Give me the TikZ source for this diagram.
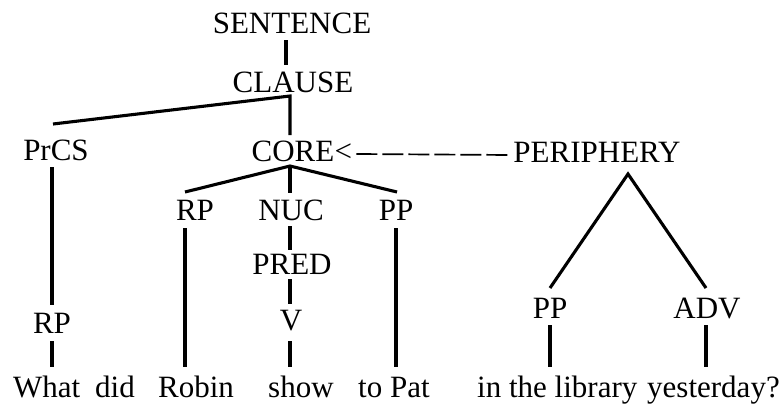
\documentclass[tikz,border=0pt]{standalone}
\usepackage{fontspec}
\setmainfont{Liberation Serif}
\usetikzlibrary{calc}
\tikzset{
  lbl/.style={anchor=base, inner sep=0pt, font=\fontsize{31}{37}\selectfont},
  word/.style={anchor=base west, inner sep=0pt, font=\fontsize{31}{37}\selectfont},
  branch/.style={line width=3.1pt},
  linkdash/.style={line width=1.7pt, dash pattern=on 21pt off 5pt}
}
\begin{document}
\begin{tikzpicture}[x=1pt,y=-1pt]
\useasboundingbox (0,0) rectangle (783,405);
% labels
\node[lbl] (sent) at (292,33) {SENTENCE};
\node[lbl] (clause) at (293,92) {CLAUSE};
\node[lbl] (prcs) at (56,160) {PrCS};
\node[lbl] (core) at (293,161) {CORE};
\node[word] (lt) at (core.base east) {<};
\node[lbl] (peri) at (597,162) {PERIPHERY};
\node[lbl] (rpm) at (195,220) {RP};
\node[lbl] (nuc) at (291,220) {NUC};
\node[lbl] (ppm) at (396,220) {PP};
\node[lbl] (pred) at (292,274) {PRED};
\node[lbl] (v) at (291,330) {V};
\node[lbl] (rpl) at (52,333) {RP};
\node[lbl] (ppr) at (550,318) {PP};
\node[lbl] (adv) at (707,318) {ADV};
% words
\node[word] (what) at (13,397) {What};
\node[word] (did) at (95,397) {did};
\node[word] (robin) at (158,397) {Robin};
\node[word] (show) at (268,397) {show};
\node[word] (topat) at (358,397) {to Pat};
\node[word] (lib) at (477,397) {in the library};
\node[word] (yest) at (647,397) {yesterday?};
% connectors
\draw[branch] ($(sent.base)+(-6,7)$) -- ($(clause.base)+(-7,-27)$);
\draw[branch] ($(prcs.base)+(-3,-36)$) -- ($(clause.base)+(-3,4)$) -- ($(core.base)+(-3,-26)$);
\draw[branch] ($(rpm.base)+(-10,-28)$) -- ($(core.base)+(-3,5)$) -- ($(ppm.base)+(1,-28)$);
\draw[branch] ($(core.base)+(-3,5)$) -- ($(nuc.base)+(-1,-27)$);
\draw[branch] ($(nuc.base)+(-1,6)$) -- ($(pred.base)+(-2,-24)$);
\draw[branch] ($(pred.base)+(-2,5)$) -- ($(v.base)+(-1,-26)$);
\draw[branch] ($(v.base)+(-1,11)$) -- ($(show.base west)+(22,-30)$);
\draw[branch] ($(prcs.base)+(-4,7)$) -- ($(rpl.base)+(0,-28)$);
\draw[branch] ($(rpl.base)+(0,8)$) -- ($(what.base west)+(39,-30)$);
\draw[branch] ($(rpm.base)+(-10,8)$) -- ($(robin.base west)+(27,-30)$);
\draw[branch] ($(ppm.base)+(0,8)$) -- ($(topat.base west)+(38,-30)$);
\draw[branch] ($(ppr.base)+(0,-30)$) -- ($(peri.base)+(31,12)$) -- ($(adv.base)+(-1,-30)$);
\draw[branch] ($(ppr.base)+(0,7)$) -- ($(lib.base west)+(73,-30)$);
\draw[branch] ($(adv.base)+(-1,7)$) -- ($(yest.base west)+(59,-30)$);
\draw[linkdash] ($(lt.base east)+(4,-7)$) -- ($(peri.base west)+(-1,-7)$);
\end{tikzpicture}
\end{document}
